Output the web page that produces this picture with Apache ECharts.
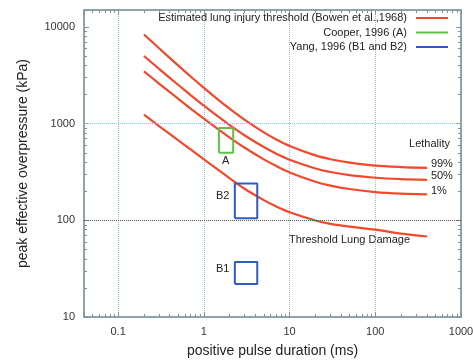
<!DOCTYPE html>
<html>
<head>
<meta charset="utf-8">
<script src="https://cdn.jsdelivr.net/npm/echarts@6/dist/echarts.min.js"></script>
<style>
  html, body { margin: 0; padding: 0; background: #fff; }
  #chart { width: 473px; height: 360px; }
</style>
</head>
<body>
<div id="chart"></div>
<script>
// positive pulse duration (ms)
var durations = [0.2, 0.3, 0.5, 0.7, 1, 1.5, 2, 3, 5, 7, 10, 20, 30, 50, 100, 200, 400];
// peak effective overpressure (kPa), Bowen curves
var lethal99 = [8370, 6030, 4010, 3080, 2350, 1745, 1428, 1095, 813, 687, 589, 470, 429, 396, 368, 356, 349];
var lethal50 = [5016, 3692, 2528, 1979, 1537, 1166, 967, 755, 573, 489, 424, 344, 316, 293, 276, 267, 262];
var lethal1 = [3478, 2603, 1812, 1434, 1125, 861, 718, 563, 427, 364, 313, 251, 229, 211, 196, 189, 186];
var thresholdDamage = [1240, 946, 675, 541, 427, 328, 272, 211, 162, 139, 121, 99.5, 92, 86, 80, 73, 68];
// boxes: [t min, t max, p min, p max]
var boxA = [1.5, 2.2, 500, 900];
var boxB1 = [2.3, 4.2, 22, 37];
var boxB2 = [2.3, 4.2, 105, 240];
// horizontal grid lines (kPa)
var gridKpa = [1000, 100];

var RED = '#f2492c', GREEN = '#5ec43e', BLUE = '#2b5cc2';
var AXIS = '#7e929c';
var FONT = '"Liberation Sans", Arial, sans-serif';
var BOWEN = 'Estimated lung injury threshold (Bowen et al.,1968)';
var COOPER = 'Cooper, 1996 (A)';
var YANG = 'Yang, 1996 (B1 and B2)';

function pairs(ys) {
  return durations.map(function (t, i) { return [t, ys[i]]; });
}
function rect(b) {
  return [[b[0], b[2]], [b[1], b[2]], [b[1], b[3]], [b[0], b[3]], [b[0], b[2]]];
}
function decadeLabel(v) {
  var l = Math.log10(v);
  if (Math.abs(l - Math.round(l)) > 1e-6) return '';
  return v >= 1 ? String(Math.round(v)) : String(+v.toFixed(3));
}

function redLine(ys, label) {
  var s = {
    name: BOWEN, type: 'line', data: pairs(ys), smooth: 0.3,
    symbol: 'none', lineStyle: { color: RED, width: 2.2 }, itemStyle: { color: RED }
  };
  if (label) {
    s.endLabel = {
      show: true, formatter: label, color: '#222', fontSize: 11, fontFamily: FONT,
      distance: 4, offset: [0, -3.5]
    };
  }
  return s;
}
function boxLine(name, b, color) {
  return {
    name: name, type: 'line', data: rect(b), symbol: 'none',
    lineStyle: { color: color, width: 2 }, itemStyle: { color: color }
  };
}

function axisCommon(extra) {
  var a = {
    type: 'log', logBase: 10,
    axisLine: { show: true, lineStyle: { color: AXIS, width: 1.5 } },
    axisTick: { show: true, inside: true, length: 5, lineStyle: { color: AXIS } },
    minorTick: { show: true, splitNumber: 9, length: 3, lineStyle: { color: AXIS } },
    splitLine: { show: false },
    axisLabel: { show: false }
  };
  for (var k in extra) a[k] = extra[k];
  return a;
}

function legendRow(name, top) {
  return {
    data: [name], orient: 'vertical', right: 25, top: top, padding: 0,
    align: 'right', icon: 'rect', itemWidth: 32, itemHeight: 2, selectedMode: false,
    textStyle: { fontSize: 11, color: '#222', fontFamily: FONT, padding: [0, 4, 0, 0] }
  };
}

var chart = echarts.init(document.getElementById('chart'));
var option = {
  animation: false,
  backgroundColor: '#fff',
  grid: {
    left: 84, right: 12, top: 10, bottom: 43, show: true, borderColor: '#93a3ac', borderWidth: 1,
    outerBoundsMode: 'none', containLabel: false
  },
  legend: [legendRow(BOWEN, 12.5), legendRow(COOPER, 27), legendRow(YANG, 41.5)],
  xAxis: [
    axisCommon({
      position: 'bottom', min: 0.04, max: 1000,
      name: 'positive pulse duration (ms)', nameLocation: 'middle', nameGap: 27,
      nameTextStyle: { fontSize: 14, color: '#222', fontFamily: FONT },
      axisLabel: { show: true, formatter: decadeLabel, color: '#333', fontSize: 11, fontFamily: FONT, margin: 9 },
      splitLine: { show: true, showMinLine: false, showMaxLine: false, lineStyle: { type: 'dotted', color: '#9bb8cc', width: 1 } }
    }),
    axisCommon({ position: 'top', min: 0.04, max: 1000 })
  ],
  yAxis: [
    axisCommon({
      position: 'left', min: 10, max: 15000,
      name: 'peak effective overpressure (kPa)', nameLocation: 'middle', nameGap: 54,
      nameTextStyle: { fontSize: 14, color: '#222', fontFamily: FONT },
      axisLabel: { show: true, formatter: decadeLabel, color: '#333', fontSize: 11, fontFamily: FONT, margin: 9 }
    }),
    axisCommon({ position: 'right', min: 10, max: 15000 })
  ],
  series: [
    redLine(lethal99, '99%'),
    redLine(lethal50, '50%'),
    redLine(lethal1, '1%'),
    redLine(thresholdDamage),
    (function () {
      var s = boxLine(COOPER, boxA, GREEN);
      s.markLine = {
        silent: true, symbol: 'none', label: { show: false },
        data: [
          { yAxis: gridKpa[0], lineStyle: { color: '#8ecbe6', type: 'dotted', width: 1 } },
          { yAxis: gridKpa[1], lineStyle: { color: '#555', type: 'dotted', width: 1 } }
        ]
      };
      return s;
    })(),
    boxLine(YANG, boxB1, BLUE),
    boxLine(YANG, boxB2, BLUE)
  ],
  graphic: [
    { type: 'text', left: 222, top: 155, style: { text: 'A', fontSize: 11, fill: '#222', fontFamily: FONT } },
    { type: 'text', left: 216, top: 190, style: { text: 'B2', fontSize: 11, fill: '#222', fontFamily: FONT } },
    { type: 'text', left: 216, top: 263, style: { text: 'B1', fontSize: 11, fill: '#222', fontFamily: FONT } },
    { type: 'text', right: 23, top: 138, style: { text: 'Lethality', fontSize: 11, fill: '#222', fontFamily: FONT } },
    { type: 'text', left: 289, top: 234, style: { text: 'Threshold Lung Damage', fontSize: 11, fill: '#222', fontFamily: FONT } }
  ]
};
chart.setOption(option);
</script>
</body>
</html>
